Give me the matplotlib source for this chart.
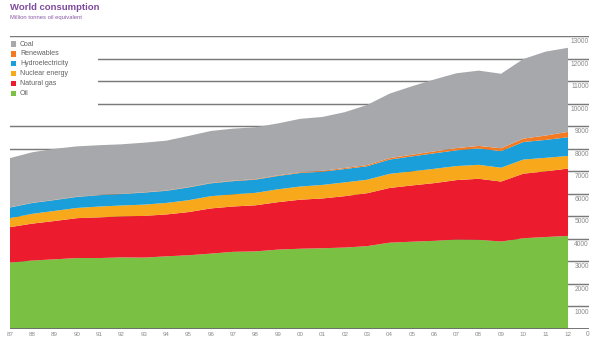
import matplotlib
matplotlib.use('Agg')
import matplotlib.pyplot as plt
from matplotlib.patches import Rectangle
import numpy as np

plt.rcParams['font.family'] = ['Liberation Sans', 'DejaVu Sans']

# World primary energy consumption, million tonnes oil equivalent
years = ['87', '88', '89', '90', '91', '92', '93', '94', '95', '96', '97', '98', '99',
         '00', '01', '02', '03', '04', '05', '06', '07', '08', '09', '10', '11', '12']
oil = [2949, 3039, 3091, 3149, 3148, 3177, 3168, 3224, 3272, 3344, 3424, 3443, 3522,
       3561, 3583, 3614, 3677, 3829, 3872, 3912, 3970, 3959, 3881, 4028, 4081, 4131]
natural_gas = [1570, 1637, 1701, 1769, 1805, 1820, 1850, 1858, 1916, 2006, 2012, 2046, 2105,
               2176, 2209, 2280, 2347, 2428, 2497, 2560, 2637, 2706, 2661, 2864, 2914, 2987]
nuclear = [404, 434, 448, 453, 480, 484, 500, 511, 526, 544, 542, 552, 571,
           584, 601, 611, 599, 625, 627, 635, 622, 619, 614, 626, 600, 560]
hydro = [468, 482, 481, 490, 506, 506, 535, 538, 567, 570, 583, 587, 592,
         601, 587, 594, 597, 634, 661, 688, 700, 728, 736, 779, 795, 831]
renewables = [8, 9, 10, 11, 12, 13, 14, 15, 17, 19, 21, 24, 27,
              32, 38, 45, 54, 65, 74, 84, 97, 112, 127, 150, 194, 237]
coal = [2184, 2240, 2265, 2231, 2204, 2195, 2199, 2209, 2267, 2303, 2308, 2299, 2304,
        2370, 2391, 2477, 2666, 2859, 3037, 3190, 3320, 3340, 3306, 3532, 3724, 3730]

labels = ['Coal', 'Renewables', 'Hydroelectricity', 'Nuclear energy', 'Natural gas', 'Oil']
colors = {'Oil': '#7ac143', 'Natural gas': '#ec1c2e', 'Nuclear energy': '#f7a81b',
          'Hydroelectricity': '#1a9fdb', 'Renewables': '#f37a21', 'Coal': '#a7a8ab'}
y_ticks = list(range(0, 14000, 1000))

W, H = 603, 346
fig = plt.figure(figsize=(W / 100, H / 100), dpi=100)


def fx(px):
    return px / W


def fy(py):
    return 1 - py / H


# axes spans the full gridline width; the data stops short of the right edge
ax = fig.add_axes([fx(10), fy(329), fx(589) - fx(10), fy(36) - fy(329)])
x = np.arange(len(years))
ax.set_xlim(0, 25.94)
ax.set_ylim(0, 13000)

for v in y_ticks[1:]:
    ax.axhline(v, color='#7a7a7a', lw=1.05, zorder=1)
ax.axhline(0, color='#6a6a6a', lw=1.3, zorder=4)

stack_order = ['Oil', 'Natural gas', 'Nuclear energy', 'Hydroelectricity', 'Renewables', 'Coal']
series = {'Oil': oil, 'Natural gas': natural_gas, 'Nuclear energy': nuclear,
          'Hydroelectricity': hydro, 'Renewables': renewables, 'Coal': coal}
ax.stackplot(x, [series[k] for k in stack_order],
             colors=[colors[k] for k in stack_order], lw=0, zorder=2)

for s in ax.spines.values():
    s.set_visible(False)
ax.set_xticks([])
ax.set_yticks([])

# value labels on the right, just under each gridline
for v in y_ticks:
    ax.annotate(str(v), xy=(1, v), xycoords=('axes fraction', 'data'),
                xytext=(0, -1.5), textcoords='offset points',
                ha='right', va='top', fontsize=4.8, color='#8a8a8a')

# year labels under the baseline
for i, yr in enumerate(years):
    ax.annotate(yr, xy=(i, 0), xycoords='data', xytext=(0, -2.2),
                textcoords='offset points', ha='center', va='top',
                fontsize=4.5, color='#8a8a8a')

# title block
fig.text(fx(10), fy(3), 'World consumption', fontsize=6.8, fontweight='bold',
         color='#7f4a9e', ha='left', va='top')
fig.text(fx(10), fy(14.5), 'Million tonnes oil equivalent', fontsize=4.2,
         color='#8a5aa8', ha='left', va='top')

# legend on a white panel over the gridlines
fig.patches.append(Rectangle((fx(9), fy(107)), fx(98) - fx(9), fy(39) - fy(107),
                             transform=fig.transFigure, facecolor='white',
                             edgecolor='none', zorder=5, figure=fig))
for j, name in enumerate(labels):
    yc = 44 + j * 9.9
    fig.patches.append(Rectangle((fx(10.5), fy(yc + 2.6)), fx(5.2), 5.2 / H,
                                 transform=fig.transFigure, facecolor=colors[name],
                                 edgecolor='none', zorder=6, figure=fig))
    fig.text(fx(20), fy(yc), name, fontsize=5.0, color='#606060',
             ha='left', va='center', zorder=7)

fig.savefig('out.png', dpi=100)
